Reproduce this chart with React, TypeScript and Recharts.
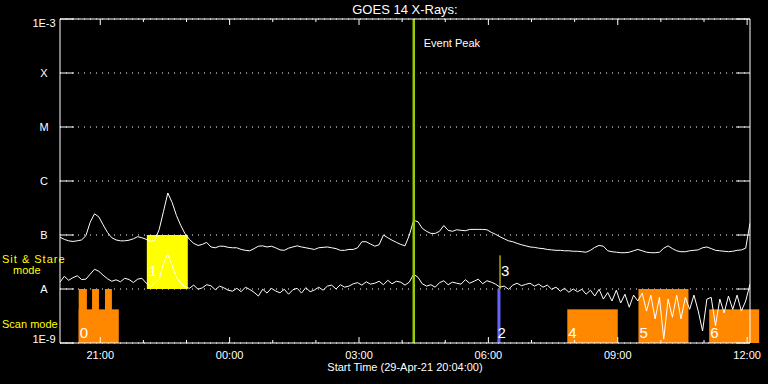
import React from 'react';
import {
  ComposedChart,
  Line,
  XAxis,
  YAxis,
  CartesianGrid,
  ReferenceArea,
  ReferenceLine,
} from 'recharts';

// time axis is in hours since 00:00 on 29-Apr-21, one sample every 6 minutes
const START = 20 + 4 / 60;
const SPAN = 16;
const CADENCE = 0.1;

// 1-8 A channel (W/m^2)
const longFlux = [
  9.1e-8, 8.3e-8, 7.8e-8, 7.6e-8, 7.8e-8, 8.1e-8, 9.7e-8, 1.72e-7, 2.47e-7, 2.17e-7,
  1.54e-7, 1.12e-7, 8.9e-8, 8.1e-8, 7.8e-8, 7.8e-8, 8.0e-8, 8.5e-8, 9.3e-8, 8.9e-8,
  8.3e-8, 7.6e-8, 8.0e-8, 1.27e-7, 2.74e-7, 6.0e-7, 4.0e-7, 2.3e-7, 1.5e-7, 1.05e-7,
  8.3e-8, 7.0e-8, 6.4e-8, 6.7e-8, 7.3e-8, 6.0e-8, 5.8e-8, 6.2e-8, 6.2e-8, 5.9e-8,
  5.8e-8, 5.8e-8, 5.4e-8, 5.2e-8, 5.1e-8, 5.6e-8, 6.2e-8, 6.3e-8, 6.0e-8, 6.2e-8,
  5.8e-8, 5.3e-8, 5.2e-8, 5.7e-8, 6.0e-8, 6.3e-8, 6.0e-8, 5.8e-8, 5.6e-8, 5.4e-8,
  5.8e-8, 5.9e-8, 6.0e-8, 5.8e-8, 5.6e-8, 5.2e-8, 5.2e-8, 5.4e-8, 5.4e-8, 5.8e-8,
  7.5e-8, 7.5e-8, 6.8e-8, 6.2e-8, 6.6e-8, 1.0e-7, 8.9e-8, 8.0e-8, 7.3e-8, 6.7e-8,
  6.3e-8, 9.9e-8, 1.87e-7, 1.76e-7, 1.33e-7, 1.17e-7, 1.07e-7, 1.07e-7, 1.17e-7, 1.5e-7,
  1.22e-7, 1.17e-7, 1.25e-7, 1.22e-7, 1.2e-7, 1.27e-7, 1.27e-7, 1.27e-7, 1.27e-7, 1.25e-7,
  1.12e-7, 1.03e-7, 9.3e-8, 8.5e-8, 7.8e-8, 7.5e-8, 7.0e-8, 6.6e-8, 6.3e-8, 6.0e-8,
  5.9e-8, 5.7e-8, 5.6e-8, 5.4e-8, 5.3e-8, 5.2e-8, 5.2e-8, 5.1e-8, 5.1e-8, 5.0e-8,
  5.0e-8, 4.9e-8, 4.8e-8, 5.2e-8, 5.9e-8, 6.4e-8, 6.2e-8, 5.1e-8, 4.9e-8, 4.8e-8,
  4.7e-8, 4.7e-8, 4.8e-8, 5.1e-8, 5.4e-8, 5.1e-8, 4.8e-8, 4.7e-8, 4.7e-8, 4.8e-8,
  5.7e-8, 6.3e-8, 5.6e-8, 5.1e-8, 4.9e-8, 4.9e-8, 5.1e-8, 5.2e-8, 5.3e-8, 5.8e-8,
  6.0e-8, 5.6e-8, 5.2e-8, 5.1e-8, 5.0e-8, 4.9e-8, 5.0e-8, 5.2e-8, 5.3e-8, 5.7e-8,
  1.65e-7,
];

// 0.5-4 A channel (W/m^2)
const shortFlux = [
  1.34e-8, 1.72e-8, 1.45e-8, 1.62e-8, 1.76e-8, 1.5e-8, 1.52e-8, 1.88e-8, 2.32e-8, 2.13e-8,
  1.8e-8, 1.55e-8, 1.39e-8, 1.48e-8, 1.36e-8, 1.58e-8, 1.5e-8, 1.32e-8, 1.52e-8, 1.58e-8,
  1.28e-8, 1.08e-8, 1.31e-8, 1.52e-8, 3.0e-8, 4.4e-8, 2.75e-8, 1.65e-8, 1.28e-8, 1.1e-8,
  1.03e-8, 1.18e-8, 9.9e-9, 1.05e-8, 1.2e-8, 1.15e-8, 9.7e-9, 1.13e-8, 1.05e-8, 9.5e-9,
  9.1e-9, 1.03e-8, 8.9e-9, 1.08e-8, 9.8e-9, 8.7e-9, 7.4e-9, 9.9e-9, 8.4e-9, 1.03e-8,
  9.2e-9, 8.5e-9, 9.9e-9, 8.0e-9, 9.7e-9, 1.03e-8, 8.4e-9, 1.06e-8, 8.9e-9, 9.6e-9,
  1.08e-8, 9.5e-9, 1.13e-8, 1.18e-8, 1.0e-8, 1.2e-8, 1.08e-8, 1.13e-8, 1.25e-8, 1.31e-8,
  1.18e-8, 1.36e-8, 1.23e-8, 1.28e-8, 1.39e-8, 1.2e-8, 1.45e-8, 1.25e-8, 1.39e-8, 1.34e-8,
  1.18e-8, 1.34e-8, 1.88e-8, 1.65e-8, 1.25e-8, 1.13e-8, 1.2e-8, 1.08e-8, 1.31e-8, 1.42e-8,
  1.2e-8, 1.34e-8, 1.28e-8, 1.23e-8, 1.49e-8, 1.28e-8, 1.39e-8, 1.52e-8, 1.25e-8, 1.42e-8,
  1.34e-8, 1.23e-8, 1.08e-8, 1.13e-8, 9.9e-9, 1.18e-8, 1.28e-8, 1.15e-8, 1.22e-8, 1.28e-8,
  1.13e-8, 1.23e-8, 1.08e-8, 1.18e-8, 9.9e-9, 1.08e-8, 9.1e-9, 1.03e-8, 8.7e-9, 1.0e-8,
  8.9e-9, 9.9e-9, 8.0e-9, 9.5e-9, 7.4e-9, 9.9e-9, 6.5e-9, 8.6e-9, 6.0e-9, 9.5e-9,
  5.5e-9, 8.0e-9, 4.6e-9, 7.7e-9, 6.0e-9, 8.4e-9, 3.9e-9, 7.7e-9, 2.8e-9, 7.0e-9,
  1.18e-9, 6.5e-9, 3.0e-9, 7.7e-9, 2.8e-9, 7.0e-9, 4.2e-9, 7.7e-9, 3.9e-9, 1.67e-9,
  6.5e-9, 7.0e-9, 2.1e-9, 6.5e-9, 3.6e-9, 7.4e-9, 4.2e-9, 7.7e-9, 3.9e-9, 6.0e-9,
  1.23e-8,
];

const hourTicks = [21, 22, 23, 24, 25, 26, 27, 28, 29, 30, 31, 32, 33, 34, 35, 36];
const levelValues = [1e-9, 1e-8, 1e-7, 1e-6, 1e-5, 1e-4, 1e-3];
const levelNames = ['1E-9', 'A', 'B', 'C', 'M', 'X', '1E-3'];

// observing modes
const scanBlocks = [
  { id: '0', start: 20.5, end: 21.43, top: 4.2e-9 },
  { id: '4', start: 31.83, end: 33.0, top: 4.2e-9 },
  { id: '5', start: 33.48, end: 34.64, top: 1e-8 },
  { id: '6', start: 35.12, end: 36.28, top: 4.2e-9 },
];
const scanSpikes = [
  { start: 20.5, end: 20.69, top: 1e-8 },
  { start: 20.81, end: 20.97, top: 1e-8 },
  { start: 21.11, end: 21.27, top: 1e-8 },
];
const stareBlock = { id: '1', start: 22.08, end: 23.03, bottom: 1e-8, top: 1e-7 };
const blueBar = { id: '2', start: 30.21, end: 30.28, top: 1e-8 };
const stareMark = { id: '3', t: 30.27, bottom: 1e-8, top: 4.2e-8 };
const eventPeak = 28.27;

const FONT = '"Liberation Sans", Arial, sans-serif';
const ORANGE = '#ff8800';
const YELLOW = '#ffff00';

const chartData = longFlux.map((v, i) => ({
  t: START + i * CADENCE,
  long: v,
  short: shortFlux[i],
}));

const hourLabel = (h: number) => `${String(h % 24).padStart(2, '0')}:00`;

const BottomTick = ({ x, y, payload }: any) => {
  const major = payload.value % 3 === 0;
  return (
    <g>
      <line x1={x} x2={x} y1={y} y2={y - (major ? 6 : 3)} stroke="#fff" />
      {major && (
        <text x={x} y={y + 16} textAnchor="middle" fill="#fff" fontSize={11} fontFamily={FONT}>
          {hourLabel(payload.value)}
        </text>
      )}
    </g>
  );
};

const TopTick = ({ x, y, payload }: any) => {
  const major = payload.value % 3 === 0;
  return <line x1={x} x2={x} y1={y} y2={y + (major ? 6 : 3)} stroke="#fff" />;
};

const LeftTick = ({ x, y, payload }: any) => {
  const idx = levelValues.findIndex((v) => Math.abs(Math.log10(v) - Math.log10(payload.value)) < 0.01);
  let dy = 4;
  if (idx === levelValues.length - 1) dy = 8;
  if (idx === 0) dy = 0;
  return (
    <g>
      <line x1={x} x2={x + 14} y1={y} y2={y} stroke="#fff" />
      <text x={x - 16} y={y + dy} textAnchor="middle" fill="#fff" fontSize={11} fontFamily={FONT}>
        {levelNames[idx]}
      </text>
    </g>
  );
};

const RightTick = ({ x, y }: any) => <line x1={x - 14} x2={x} y1={y} y2={y} stroke="#fff" />;

const blockShape = (fill: string, text: string | null, lift: number, dx: number) => (p: any) => (
  <g>
    <rect x={p.x} y={p.y} width={p.width} height={p.height} fill={fill} />
    {text && (
      <text x={p.x + dx} y={p.y + p.height - lift} fill="#fff" fontSize={15} fontFamily={FONT}>
        {text}
      </text>
    )}
  </g>
);

const axisCommon = {
  allowDataOverflow: true,
  interval: 0 as const,
  tickSize: 0,
  tickMargin: 0,
  tickLine: false,
  axisLine: { stroke: '#fff' },
};

const App: React.FC = () => {
  return (
    <div style={{ position: 'absolute', left: 0, top: 0, width: 768, height: 384, background: '#000' }}>
      <ComposedChart
        width={768}
        height={384}
        data={chartData}
        margin={{ top: 18, right: 17, bottom: 40, left: 59 }}
      >
        <CartesianGrid vertical={false} stroke="#fff" strokeDasharray="1 5" />
        <XAxis
          {...axisCommon}
          dataKey="t"
          type="number"
          domain={[START, START + SPAN]}
          ticks={hourTicks}
          height={1}
          tick={<BottomTick />}
        />
        <XAxis
          {...axisCommon}
          xAxisId="top"
          orientation="top"
          dataKey="t"
          type="number"
          domain={[START, START + SPAN]}
          ticks={hourTicks}
          height={1}
          tick={<TopTick />}
        />
        <YAxis
          {...axisCommon}
          type="number"
          scale="log"
          domain={[1e-9, 1e-3]}
          ticks={levelValues}
          width={1}
          tick={<LeftTick />}
        />
        <YAxis
          {...axisCommon}
          yAxisId="right"
          orientation="right"
          type="number"
          scale="log"
          domain={[1e-9, 1e-3]}
          ticks={levelValues}
          width={1}
          tick={<RightTick />}
        />

        {scanSpikes.map((s, i) => (
          <ReferenceArea
            key={'spike' + i}
            x1={s.start}
            x2={s.end}
            y1={1e-9}
            y2={s.top}
            ifOverflow="visible"
            shape={blockShape(ORANGE, null, 0, 0)}
          />
        ))}
        {scanBlocks.map((b) => (
          <ReferenceArea
            key={'scan' + b.id}
            x1={b.start}
            x2={b.end}
            y1={1e-9}
            y2={b.top}
            ifOverflow="visible"
            shape={blockShape(ORANGE, b.id, 5, 1)}
          />
        ))}
        <ReferenceArea
          x1={stareBlock.start}
          x2={stareBlock.end}
          y1={stareBlock.bottom}
          y2={stareBlock.top}
          ifOverflow="visible"
          shape={blockShape(YELLOW, stareBlock.id, 13, 2)}
        />
        <ReferenceArea
          x1={blueBar.start}
          x2={blueBar.end}
          y1={1e-9}
          y2={blueBar.top}
          ifOverflow="visible"
          shape={blockShape('#6464ff', blueBar.id, 5, 0)}
        />
        <ReferenceLine
          segment={[
            { x: stareMark.t, y: stareMark.bottom },
            { x: stareMark.t, y: stareMark.top },
          ]}
          ifOverflow="visible"
          shape={(p: any) => (
            <g>
              <line x1={p.x1} x2={p.x2} y1={p.y1} y2={p.y2} stroke={YELLOW} strokeWidth={1} />
              <text x={p.x1 + 1} y={Math.max(p.y1, p.y2) - 13} fill="#fff" fontSize={15} fontFamily={FONT}>
                {stareMark.id}
              </text>
            </g>
          )}
        />

        <Line
          dataKey="long"
          type="linear"
          stroke="#fff"
          strokeWidth={1}
          dot={false}
          isAnimationActive={false}
        />
        <Line
          dataKey="short"
          type="linear"
          stroke="#fff"
          strokeWidth={1}
          dot={false}
          isAnimationActive={false}
        />

        <ReferenceLine
          x={eventPeak}
          ifOverflow="visible"
          shape={(p: any) => (
            <g>
              <line x1={p.x1} x2={p.x2} y1={p.y1} y2={p.y2} stroke="#99cc00" strokeWidth={2.5} />
              <text x={p.x1 + 10} y={Math.min(p.y1, p.y2) + 28} fill="#fff" fontSize={11} fontFamily={FONT}>
                Event Peak
              </text>
            </g>
          )}
        />
      </ComposedChart>

      <svg
        width={768}
        height={384}
        style={{ position: 'absolute', left: 0, top: 0, pointerEvents: 'none' }}
        fontFamily={FONT}
      >
        <text x={405} y={14} textAnchor="middle" fill="#fff" fontSize={13}>
          GOES 14 X-Rays:
        </text>
        <text x={2} y={263} fill={YELLOW} fontSize={11} letterSpacing={1}>
          Sit &amp; Stare
        </text>
        <text x={13} y={274} fill={YELLOW} fontSize={11}>
          mode
        </text>
        <text x={2} y={328} fill={YELLOW} fontSize={11}>
          Scan mode
        </text>
        <text x={405} y={371} textAnchor="middle" fill="#fff" fontSize={11}>
          Start Time (29-Apr-21 20:04:00)
        </text>
      </svg>
    </div>
  );
};

export default App;
